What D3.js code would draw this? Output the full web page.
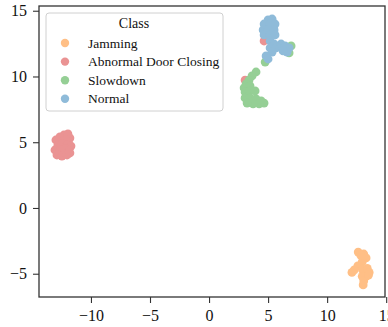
<!DOCTYPE html>
<html>
<head>
<meta charset="utf-8">
<script src="https://cdn.jsdelivr.net/npm/d3@7"></script>
<style>
  html, body { margin: 0; padding: 0; background: #fff; }
  svg { display: block; }
  svg text { font-family: "Liberation Serif", "Times New Roman", serif; }
</style>
</head>
<body>
<svg id="chart" width="388" height="327"></svg>
<script>
// Class names and their colours (legend order)
const classes = ["Jamming", "Abnormal Door Closing", "Slowdown", "Normal"];
const colors = ["#ffbf86", "#ea9393", "#95cf95", "#8fbbd9"];

// 2-D embedding coordinates per class
const jammingX = [12.63, 13.1, 13.3, 12.97, 12.6, 12.3, 12.1, 13.0, 13.4, 13.56, 13.3, 12.97, 13.1, 13.05, 12.85, 13.5];
const jammingY = [-3.35, -3.5, -3.8, -4.1, -4.4, -4.7, -4.9, -4.7, -4.6, -4.9, -5.2, -5.2, -5.55, -5.85, -3.6, -5.1];

const abnormalX = [-12.97, -12.63, -12.29, -11.95, -11.78, -12.12, -12.8, -12.46, -12.03, -11.69, -13.05, -12.63, -12.2, -11.86, -12.88, -12.46, -12.03, -11.78, 4.66, 3.05];
const abnormalY = [5.17, 5.4, 5.55, 5.63, 5.32, 5.17, 4.79, 4.87, 4.79, 4.71, 4.41, 4.41, 4.49, 4.33, 4.03, 3.95, 4.03, 4.18, 12.7, 9.73];

const slowdownX = [3.98, 3.64, 3.39, 3.14, 2.97, 3.47, 3.05, 3.47, 3.9, 3.05, 3.47, 3.98, 4.41, 4.66, 4.24, 3.73, 3.22, 6.95, 6.78, 4.75];
const slowdownY = [10.34, 10.04, 9.73, 9.43, 9.13, 9.28, 8.82, 8.9, 8.9, 8.37, 8.37, 8.29, 8.14, 7.98, 7.91, 7.91, 7.98, 12.32, 11.79, 11.1];

const normalX = [5.0, 5.34, 4.66, 5.17, 5.59, 4.58, 5.0, 5.51, 4.66, 5.17, 5.59, 5.17, 5.51, 5.17, 5.68, 5.34, 6.1, 6.44, 6.78, 6.61, 6.27, 4.83, 5.0];
const normalY = [14.3, 14.37, 13.99, 13.99, 13.99, 13.54, 13.54, 13.54, 13.16, 13.16, 13.16, 12.7, 12.47, 12.17, 12.17, 11.86, 12.47, 12.32, 12.17, 11.86, 11.94, 11.56, 11.33];

const xTicks = [-10, -5, 0, 5, 10, 15];
const yTicks = [-5, 0, 5, 10, 15];

const series = [
  { xs: jammingX, ys: jammingY },
  { xs: abnormalX, ys: abnormalY },
  { xs: slowdownX, ys: slowdownY },
  { xs: normalX, ys: normalY }
];

const svg = d3.select("#chart");
const margin = { left: 39, right: 3, top: 6, bottom: 30 };
const W = 388, H = 327;

const x = d3.scaleLinear().domain([-14.4, 14.9]).range([margin.left, W - margin.right]);
const y = d3.scaleLinear().domain([-6.77, 15.36]).range([H - margin.bottom, margin.top]);

// Points
series.forEach((s, i) => {
  svg.append("g")
    .selectAll("circle")
    .data(s.xs.map((v, j) => [v, s.ys[j]]))
    .join("circle")
    .attr("cx", d => x(d[0]))
    .attr("cy", d => y(d[1]))
    .attr("r", 4.4)
    .attr("fill", colors[i]);
});

// Frame
svg.append("rect")
  .attr("x", margin.left).attr("y", margin.top)
  .attr("width", W - margin.right - margin.left)
  .attr("height", H - margin.bottom - margin.top)
  .attr("fill", "none").attr("stroke", "#333").attr("stroke-width", 1.3);

// Axes
const fmt = d => d < 0 ? "\u2212" + Math.abs(d) : String(d);
const xAxis = svg.append("g")
  .attr("transform", `translate(0,${H - margin.bottom})`)
  .call(d3.axisBottom(x).tickValues(xTicks).tickSize(6).tickPadding(7).tickFormat(fmt));
const yAxis = svg.append("g")
  .attr("transform", `translate(${margin.left},0)`)
  .call(d3.axisLeft(y).tickValues(yTicks).tickSize(6).tickPadding(6).tickFormat(fmt));

[xAxis, yAxis].forEach(g => {
  g.attr("font-family", null).attr("font-size", null);
  g.select(".domain").remove();
  g.selectAll(".tick line").attr("stroke", "#333").attr("stroke-width", 1.1);
  g.selectAll(".tick text").attr("fill", "#111").style("font-size", "16px");
});

// Legend
const lg = svg.append("g");
lg.append("rect")
  .attr("x", 46).attr("y", 13).attr("width", 177).attr("height", 98)
  .attr("rx", 3).attr("fill", "#fff").attr("fill-opacity", 0.8)
  .attr("stroke", "#d0d0d0").attr("stroke-width", 1);
lg.append("text")
  .attr("x", 134).attr("y", 28)
  .attr("text-anchor", "middle")
  .style("font-size", "14px").attr("fill", "#111")
  .text("Class");
classes.forEach((c, i) => {
  const cy = 43 + i * 18.6;
  lg.append("circle").attr("cx", 65).attr("cy", cy).attr("r", 4.2).attr("fill", colors[i]);
  lg.append("text")
    .attr("x", 88).attr("y", cy + 4.5)
    .style("font-size", "13.5px").attr("fill", "#111")
    .text(c);
});
</script>
</body>
</html>
